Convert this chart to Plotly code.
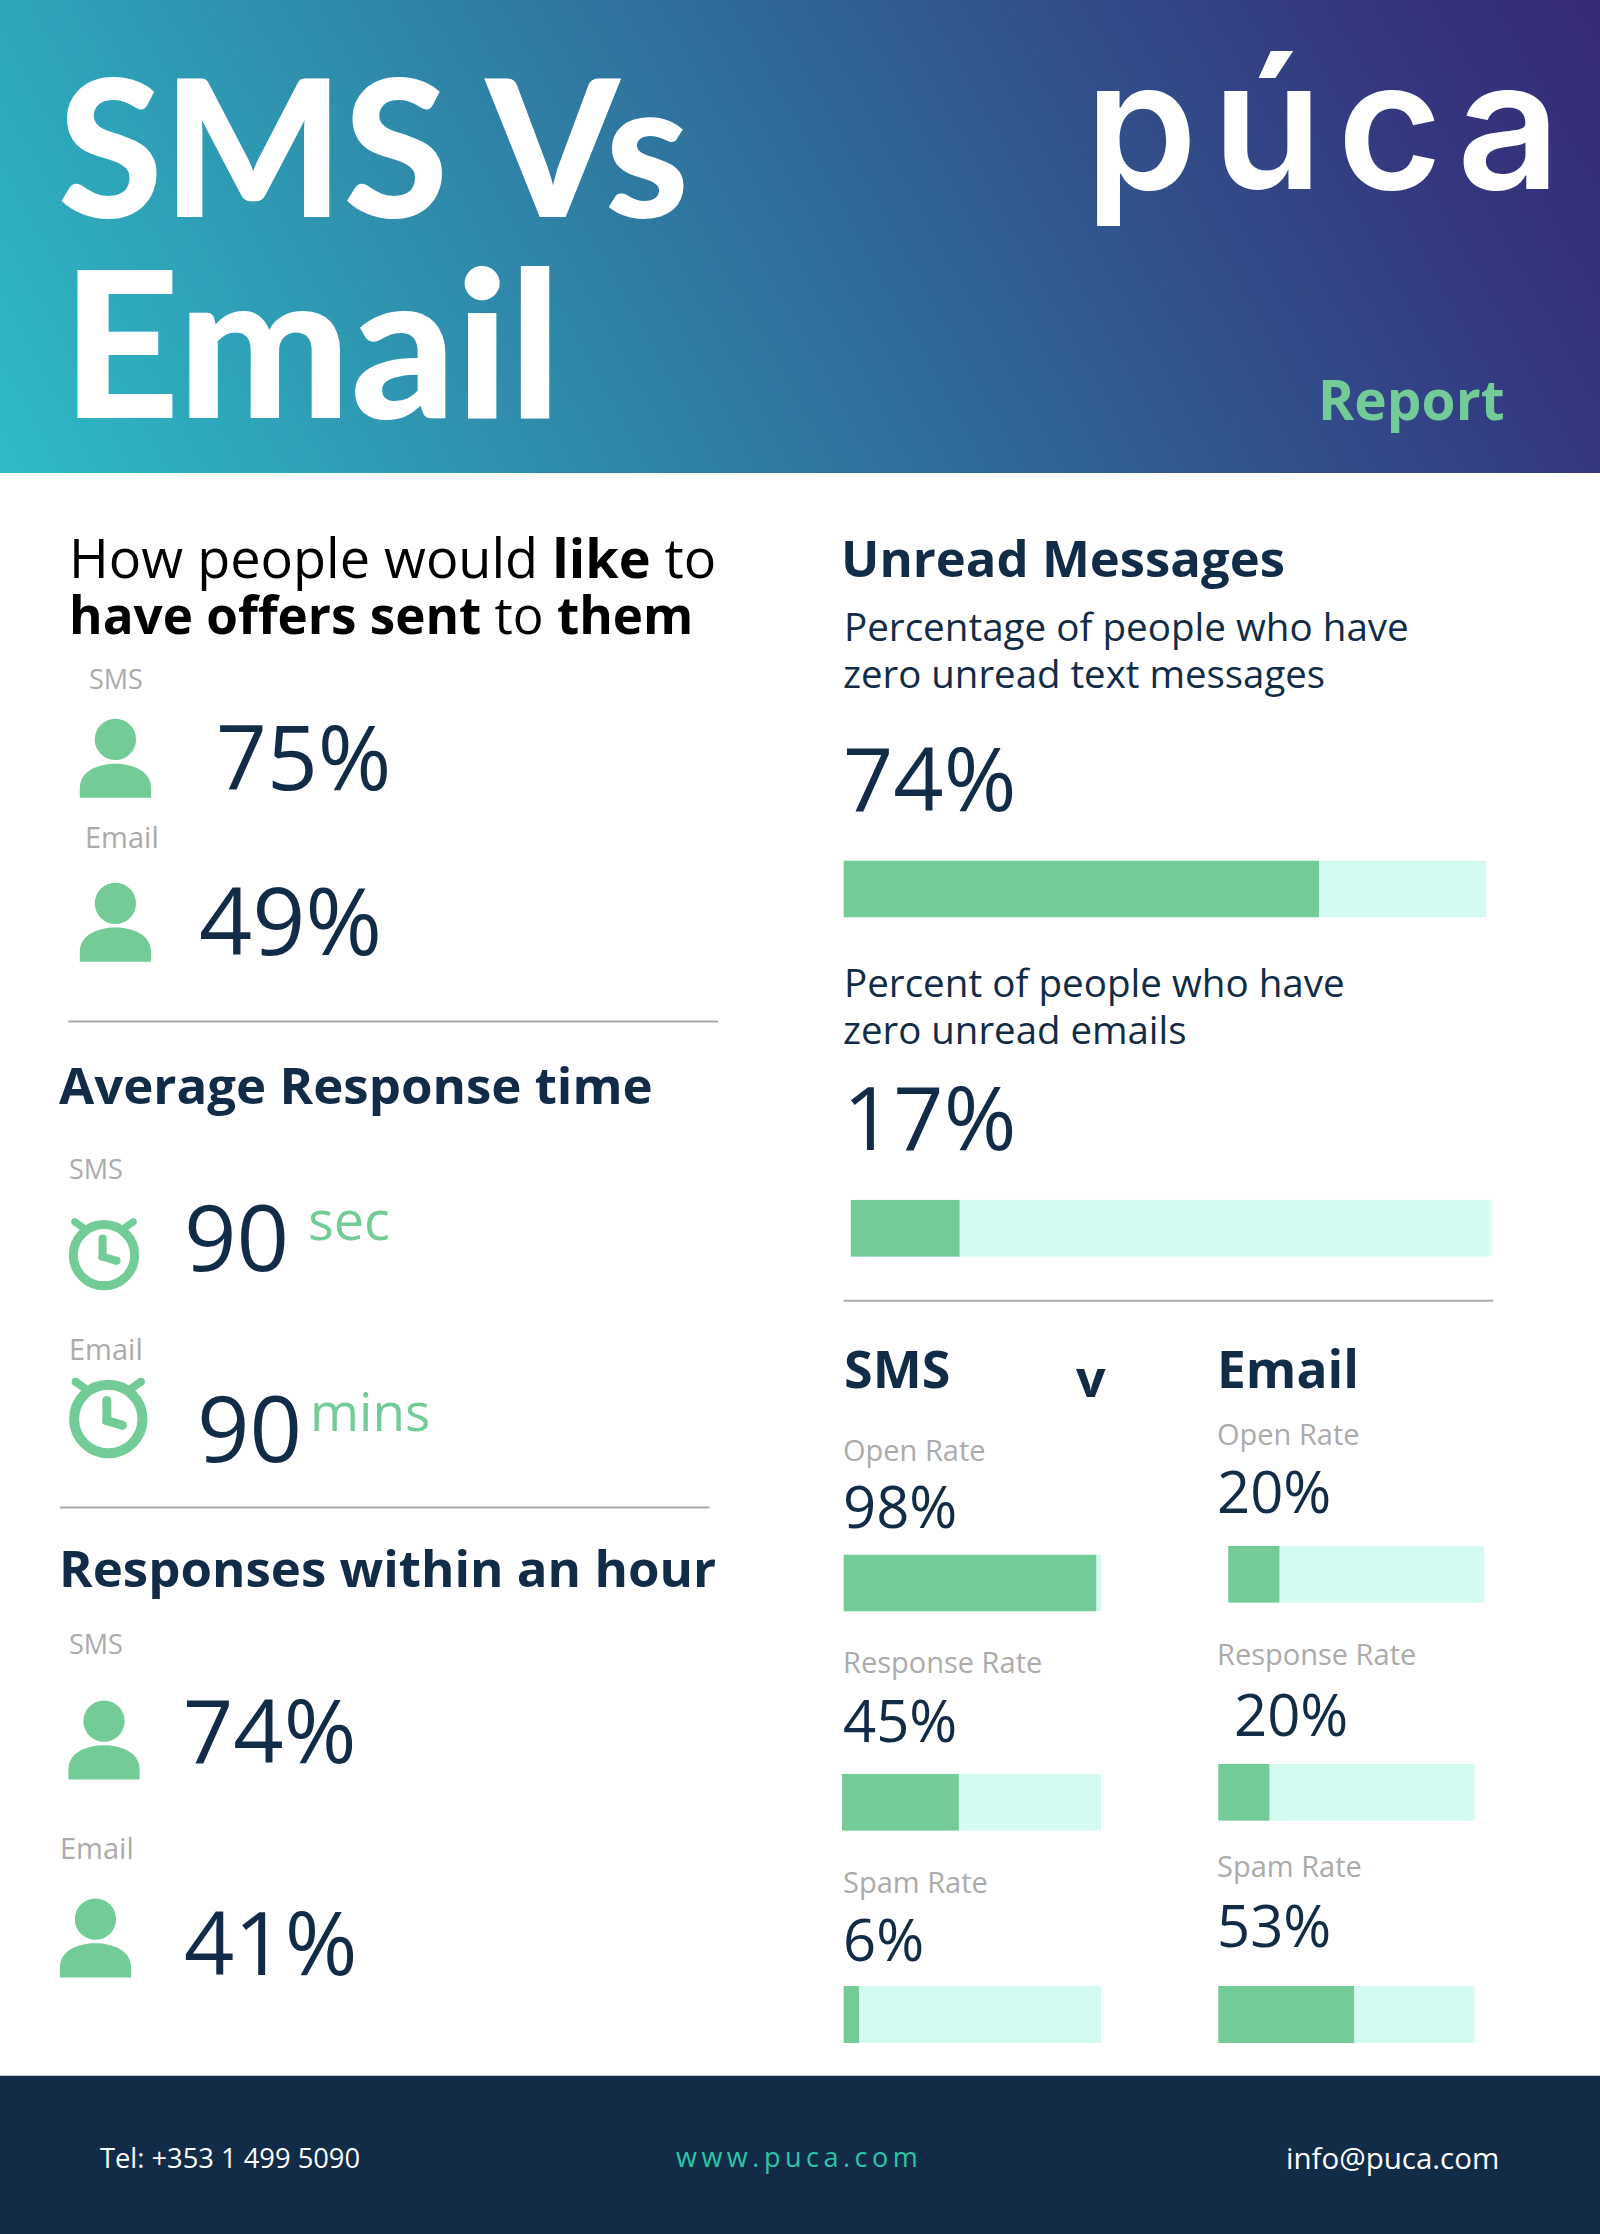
import numpy as np
import plotly.graph_objects as go

# values
offer_values = [75, 49]
offer_labels = ["SMS", "Email"]
response_times = [90, 90]
response_units = ["sec", "mins"]
within_hour = [74, 41]
unread_values = [74, 17]
unread_lines = [
    ["Percentage of people who have", "zero unread text messages"],
    ["Percent of people who have", "zero unread emails"],
]
rate_labels = ["Open Rate", "Response Rate", "Spam Rate"]
sms_rates = [98, 45, 6]
email_rates = [20, 20, 53]

FONT = "Open Sans"
NAVY = "#122C47"
GREEN = "#73CC98"
TRACK = "#D3FBF2"
GREY = "#ABABAB"
W, H = 1123, 1568  # everything below is placed on this grid
S = 1600 / W

annotations = []
shapes = []


def label(text, x, y, size, color=NAVY, font=FONT, weight=None):
    style = dict(family=font, size=size, color=color)
    if weight:
        style["weight"] = weight
    annotations.append(dict(
        text=text, x=x - 1, y=y - size * 0.02, xref="x", yref="y", xanchor="left", yanchor="middle",
        showarrow=False, font=style,
    ))


def rule(x0, x1, y):
    shapes.append(dict(type="line", x0=x0, x1=x1, y0=y, y1=y, xref="x", yref="y",
                       line=dict(color=GREY, width=2)))


def dot(cx, cy, r, color=GREEN):
    shapes.append(dict(type="circle", x0=cx - r, x1=cx + r, y0=cy - r, y1=cy + r,
                       xref="x", yref="y", fillcolor=color, line_width=0))


def person(cx, top):
    dot(cx, top + 15, 14.5)
    y0, y1 = top + 32, top + 56
    path = (f"M {cx-25} {y1} L {cx-25} {y1-7} C {cx-25} {y0+5} {cx-12} {y0} {cx} {y0} "
            f"C {cx+12} {y0} {cx+25} {y0+5} {cx+25} {y1-7} L {cx+25} {y1} Z")
    shapes.append(dict(type="path", path=path, xref="x", yref="y", fillcolor=GREEN, line_width=0))


def clock(cx, cy, r, lw):
    ring = dict(color=GREEN, width=lw)
    shapes.append(dict(type="circle", x0=cx - r, x1=cx + r, y0=cy - r, y1=cy + r,
                       xref="x", yref="y", line=ring))
    k = r / 22
    for sign in (-1, 1):
        x_a, y_a = cx + sign * 14 * k, cy - 19 * k
        x_b, y_b = cx + sign * 21 * k, cy - 24 * k
        shapes.append(dict(type="line", x0=x_a, y0=y_a, x1=x_b, y1=y_b, xref="x", yref="y",
                           line=dict(color=GREEN, width=lw * 0.8)))
        dot(x_b, y_b, lw * 0.4 / S)
    hands = f"M {cx-1} {cy-12*k} L {cx-1} {cy+1*k} L {cx+9*k} {cy+4*k}"
    shapes.append(dict(type="path", path=hands, xref="x", yref="y",
                       line=dict(color=GREEN, width=lw * 0.9)))
    dot(cx - 1, cy - 12 * k, lw * 0.45 / S)
    dot(cx - 1, cy + 1 * k, lw * 0.45 / S)
    dot(cx + 9 * k, cy + 4 * k, lw * 0.45 / S)


# header gradient, footer
gx = np.linspace(0, W, 401)
gy = np.linspace(0, 332, 121)
cx_ = (gx[:-1] + gx[1:]) / 2 / W
cy_ = (gy[:-1] + gy[1:]) / 2 / 332
grad = np.round(0.86 * cx_[None, :] + 0.14 * (1 - cy_[:, None]), 4)
traces = [go.Heatmap(
    x=gx, y=gy, z=grad, zmin=0, zmax=1, showscale=False, hoverinfo="skip",
    colorscale=[[0, "#2EBBC6"], [0.5, "#2F6E9B"], [0.86, "#34377F"], [1, "#362A78"]],
)]
shapes.append(dict(type="rect", x0=0, x1=W, y0=1457, y1=H, xref="x", yref="y",
                   fillcolor=NAVY, line_width=0))

# header text
label("SMS Vs", 40, 104, 190, "white", "Lato", 900)
label("Email", 43, 242, 205, "white", "Lato", 900)
label("<b>Report</b>", 925, 281, 55, GREEN)
label("p\u200aú\u200ac\u200aa", 761, 90, 180, "white", "Inter", 600)

# left column
label("How people would <b>like</b> to", 48, 392, 54, "black")
label("<b>have offers sent</b> to <b>them</b>", 48, 432, 51.2, "black")
label(offer_labels[0], 62, 477, 27, GREY)
label(offer_labels[1], 59, 588, 29, GREY)
label(f"{offer_values[0]}%", 151, 532, 89)
label(f"{offer_values[1]}%", 139, 647, 93)
person(81, 504)
person(81, 619)
rule(48, 504, 717)

label("<b>Average Response time</b>", 41, 762, 51)
label(offer_labels[0], 48, 821, 27, GREY)
label(offer_labels[1], 48, 947, 29, GREY)
label(str(response_times[0]), 129, 869, 92)
label(str(response_times[1]), 138, 1003, 92)
label(response_units[0], 216, 857, 54, GREEN)
label(response_units[1], 217, 991, 53, GREEN)
clock(73, 881, 21.5, 9)
clock(76, 996, 24, 10)
rule(42, 498, 1058)

label("<b>Responses within an hour</b>", 41, 1101, 51)
label(offer_labels[0], 48, 1154, 27, GREY)
label(offer_labels[1], 42, 1297, 29, GREY)
label(f"{within_hour[0]}%", 128, 1215, 88)
label(f"{within_hour[1]}%", 129, 1364, 88)
person(73, 1193)
person(67, 1332)

# right column
label("<b>Unread Messages</b>", 590, 392, 50.8)
for lines, ys in zip(unread_lines, [(440, 473), (690, 723)]):
    label(lines[0], 592, ys[0], 38.6)
    label(lines[1], 591, ys[1], 38.4)
label(f"{unread_values[0]}%", 591, 547, 88)
label(f"{unread_values[1]}%", 591, 785, 88)
rule(592, 1048, 913)

label("<b>SMS</b>", 592, 961, 52)
label("<b>v</b>", 755, 967, 52)
label("<b>Email</b>", 854, 961, 51.5)

sms_pos = [(591, 1018, 591, 1058), (591, 1167, 591, 1208), (591, 1321, 591, 1362)]
email_pos = [(854, 1007, 854, 1047), (854, 1161, 866, 1204), (854, 1310, 854, 1352)]
for name, sms, email, p, q in zip(rate_labels, sms_rates, email_rates, sms_pos, email_pos):
    label(name, p[0], p[1], 29, GREY)
    label(f"{sms}%", p[2], p[3], 58)
    label(name, q[0], q[1], 29, GREY)
    label(f"{email}%", q[2], q[3], 58)

# footer
label("Tel: +353 1 499 5090", 70, 1515, 27.3, "white")
label("\u2006".join("www.puca.com"), 474, 1514, 27, "#2AC7A7")
label("info@puca.com", 902, 1515, 29.5, "white")

# progress bars: one small pair of axes per bar
bar_values = unread_values + [sms_rates[0], email_rates[0], sms_rates[1], email_rates[1], sms_rates[2], email_rates[2]]
bar_boxes = [
    (592, 1043, 604, 644), (597, 1047, 842, 882),
    (592, 773, 1091, 1131), (862, 1042, 1085, 1125),
    (591, 773, 1245, 1285), (855, 1035, 1238, 1278),
    (592, 773, 1394, 1434), (855, 1035, 1394, 1434),
]
axes = {}
for i, (value, box) in enumerate(zip(bar_values, bar_boxes), start=2):
    x0, x1, y0, y1 = box
    axes[f"xaxis{i}"] = dict(domain=[x0 / W, x1 / W], range=[0, 100], visible=False, anchor=f"y{i}")
    axes[f"yaxis{i}"] = dict(domain=[1 - y1 / H, 1 - y0 / H], range=[-0.5, 0.5], visible=False, anchor=f"x{i}")
    traces.append(go.Bar(x=[100], y=[0], width=1, orientation="h", marker=dict(color=TRACK, line_width=0),
                         xaxis=f"x{i}", yaxis=f"y{i}", hoverinfo="skip"))
    traces.append(go.Bar(x=[value], y=[0], width=1, orientation="h", marker=dict(color=GREEN, line_width=0),
                         xaxis=f"x{i}", yaxis=f"y{i}"))

fig = go.Figure(traces)
fig.update_layout(
    width=1600, height=2234, margin=dict(l=0, r=0, t=0, b=0), showlegend=False,
    barmode="overlay", paper_bgcolor="white", plot_bgcolor="rgba(0,0,0,0)",
    xaxis=dict(range=[0, W], visible=False, domain=[0, 1]),
    yaxis=dict(range=[H, 0], visible=False, domain=[0, 1]),
    shapes=shapes, annotations=annotations, **axes,
)
fig.write_html("out.html", config={"displayModeBar": False},
               post_script="document.body.style.margin='0'")
